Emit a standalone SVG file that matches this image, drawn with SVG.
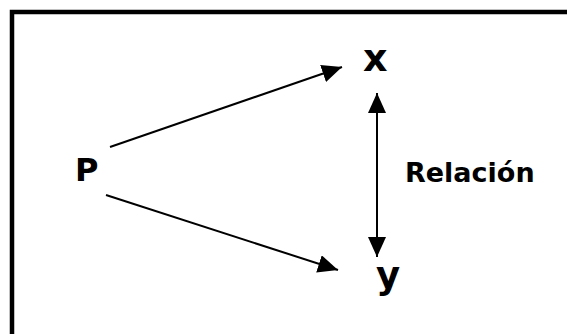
<svg xmlns="http://www.w3.org/2000/svg" width="567" height="334" viewBox="0 0 567 334">
<style>
.lbl{font-family:"DejaVu Sans","Verdana",sans-serif;font-weight:bold;fill:#000}
.conn{stroke:#000;stroke-width:2;fill:none}
</style>
<defs>
<marker id="ah" markerUnits="userSpaceOnUse" markerWidth="20" markerHeight="18" refX="20" refY="9" orient="auto-start-reverse">
<path d="M0,0 L20,9 L0,18 z" fill="#000"/>
</marker>
</defs>
<rect x="0" y="0" width="567" height="334" fill="#fff"/>
<rect x="12" y="12" width="600" height="400" fill="none" stroke="#000" stroke-width="4.5"/>
<g id="connectors">
<line class="conn" x1="110" y1="147" x2="342" y2="67" marker-end="url(#ah)"/>
<line class="conn" x1="106" y1="195" x2="338" y2="270" marker-end="url(#ah)"/>
<line class="conn" x1="377" y1="93" x2="377" y2="257" marker-start="url(#ah)" marker-end="url(#ah)"/>
</g>
<g id="node-P"><text class="lbl" x="75" y="181" font-size="32">P</text></g>
<g id="node-x"><text class="lbl" x="363" y="71" font-size="38">x</text></g>
<g id="node-y"><text class="lbl" x="376" y="288" font-size="37">y</text></g>
<g id="label-relacion"><text class="lbl" x="405" y="182" font-size="27">Relación</text></g>
</svg>
